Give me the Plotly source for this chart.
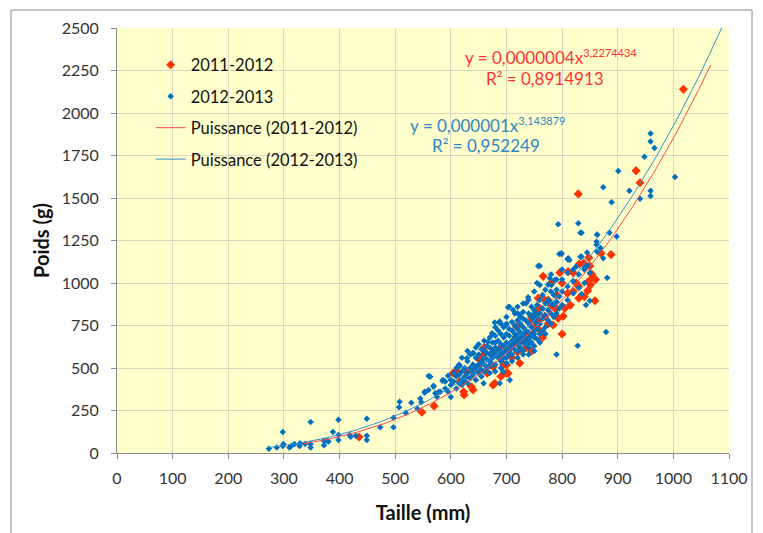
import numpy as np
import plotly.graph_objects as go

# ---------------- data ----------------
red_x = [1018, 933, 940, 829, 888, 848, 831, 839, 853, 855, 847, 851, 846, 859, 796, 811, 766, 757, 769, 754,
         760, 769, 787, 793, 802, 805, 751, 757, 784, 718, 718, 714, 691, 720, 679, 658, 652, 700, 676, 703,
         724, 695, 676, 679, 652, 616, 629, 604, 610, 624, 623, 640, 637, 548, 570, 435, 800, 820, 830, 840,
         860, 780, 745, 765, 740, 730, 710, 700, 690, 665, 645, 800, 815, 825, 790, 775, 870, 850, 830, 735,
         745, 705, 660, 780, 810, 820, 760, 775, 790, 745]
red_y = [2139, 1661, 1590, 1524, 1167, 1149, 1112, 1116, 1053, 1033, 1008, 989, 955, 896, 1061, 1067, 1039, 911, 900, 841,
         851, 804, 851, 792, 804, 851, 743, 782, 753, 743, 684, 644, 625, 594, 606, 576, 518, 518, 508, 469,
         528, 520, 400, 410, 547, 420, 475, 469, 484, 341, 360, 371, 390, 240, 276, 94, 700, 950, 910, 920,
         1020, 1000, 600, 680, 700, 660, 560, 470, 450, 470, 490, 1000, 870, 1000, 930, 900, 1175, 1100, 980, 620,
         780, 620, 620, 870, 940, 1060, 720, 760, 850, 800]

blue_cols = {
    273: [25], 287: [33], 298: [41, 124], 299: [53], 310: [33], 313: [41], 319: [53], 328: [41], 329: [57],
    338: [53], 348: [33, 53, 182], 372: [72, 45], 377: [72], 380: [68], 388: [124], 398: [196, 106, 76],
    418: [106], 420: [96], 429: [102], 449: [202, 102, 76], 473: [151], 497: [208, 151], 507: [269], 508: [302],
    519: [237], 529: [296], 540: [260], 545: [320], 547: [298], 553: [355, 361], 560: [453, 370], 563: [449],
    569: [396, 390], 572: [351], 575: [331], 578: [359], 581: [360], 585: [425], 586: [429],
    590: [380, 420], 595: [360, 455], 600: [400, 430, 330], 605: [420, 470], 610: [380, 450, 500],
    615: [410, 520, 460], 616: [512], 620: [430, 480, 560, 400, 410], 625: [450, 500, 420],
    629: [557, 449], 630: [470, 540, 600, 410], 635: [440, 500, 580], 640: [480, 520, 460, 590, 586],
    645: [500, 560, 430, 620], 650: [470, 520, 580, 640, 500], 655: [490, 540, 610, 450],
    659: [410], 660: [520, 560, 600, 480, 660], 665: [500, 550, 630, 590], 667: [655],
    670: [540, 580, 620, 470, 680, 510, 518], 674: [704], 675: [560, 600, 650, 520, 700],
    679: [767], 680: [520, 580, 620, 690, 650, 480, 740], 685: [560, 610, 660, 590, 720],
    687: [767], 688: [773, 410], 690: [540, 600, 640, 700, 760, 580, 500], 694: [478],
    695: [590, 630, 680, 560, 740], 700: [560, 610, 650, 700, 760, 800, 600, 530, 753],
    703: [857], 705: [600, 640, 690, 730, 580, 860], 706: [429], 710: [580, 620, 660, 720, 770, 640, 540],
    712: [841], 715: [610, 650, 700, 750, 680, 820], 720: [600, 640, 690, 730, 780, 560, 660, 860, 822],
    724: [812], 725: [620, 670, 710, 760, 650, 800], 730: [600, 650, 690, 740, 790, 830, 700, 580, 880],
    735: [640, 680, 720, 780, 880, 660], 739: [916], 740: [620, 670, 710, 760, 820, 900, 640, 580],
    745: [650, 700, 740, 800, 860, 690], 750: [630, 680, 720, 780, 840, 950, 700, 600],
    751: [822], 755: [670, 730, 800, 870, 1000, 760], 757: [1100], 760: [700, 760, 820, 900, 650, 988, 1100],
    765: [720, 790, 850, 930], 770: [740, 810, 880, 960, 700], 775: [780, 840, 900, 990],
    778: [1028], 780: [760, 820, 880, 950, 1050], 781: [988], 785: [800, 870, 930], 787: [1018],
    790: [820, 890, 960, 1020, 580], 793: [1345], 795: [850, 920, 1170], 799: [1175, 1171],
    800: [870, 950, 1020, 1080], 810: [900, 980, 1060, 1140], 811: [1145], 813: [1135],
    820: [940, 1010, 1080], 825: [1096], 828: [631], 829: [1351], 830: [970, 1050],
    833: [1296, 1155], 835: [1155, 1296, 935], 840: [1000, 1080, 1090], 843: [870], 845: [1100, 1180],
    847: [1100], 850: [1060, 896], 862: [1243, 1225], 863: [1284, 1286, 1184], 869: [1206],
    874: [1145, 1563], 879: [712], 881: [1031], 885: [1296], 889: [1475], 898: [1273],
    901: [1659], 921: [1543], 940: [1496], 948: [1743], 959: [1880, 1833, 1543, 1512], 966: [1794],
    1003: [1623],
}
blue_x = [x for x, ys in blue_cols.items() for _ in ys]
blue_y = [y for ys in blue_cols.values() for y in ys]

# power trendlines  y = a * x^b
red_a, red_b, red_xmin, red_xmax = 3.847e-7, 3.2274434, 335, 1067
blue_a, blue_b, blue_xmin, blue_xmax = 7.12e-7, 3.143879, 272, 1090

SUP = '<sup><span style="font-size:11px">{}</span></sup>'
red_eq = "y = 0,0000004x" + SUP.format("3,2274434")
red_r2 = "R² = 0,8914913"
blue_eq = "y = 0,000001x" + SUP.format("3,143879")
blue_r2 = "R² = 0,952249"

# ---------------- figure ----------------
FONT = "Lato, 'Open Sans', sans-serif"
RED_M = "#FF3300"
BLUE_M = "#0070C0"

fig = go.Figure()
fig.add_trace(go.Scatter(x=red_x, y=red_y, mode="markers", name="2011-2012", legendgroup="a",
                         marker=dict(symbol="diamond", size=7, color=RED_M, line=dict(width=0))))
fig.add_trace(go.Scatter(x=blue_x, y=blue_y, mode="markers", name="2012-2013", legendgroup="b",
                         marker=dict(symbol="diamond", size=5, color=BLUE_M, line=dict(width=0))))
rx = np.linspace(red_xmin, red_xmax, 200)
bx = np.linspace(blue_xmin, blue_xmax, 200)
fig.add_trace(go.Scatter(x=rx, y=red_a * rx ** red_b, mode="lines", name="Puissance (2011-2012)",
                         legendgroup="c", line=dict(color="#FF4A4A", width=1)))
fig.add_trace(go.Scatter(x=bx, y=blue_a * bx ** blue_b, mode="lines", name="Puissance (2012-2013)",
                         legendgroup="d", line=dict(color="#3C8FCB", width=1)))

fig.update_layout(
    width=763, height=533,
    margin=dict(l=117, r=34, t=28, b=80),
    paper_bgcolor="white", plot_bgcolor="#FFFFCC",
    font=dict(family=FONT, size=15, color="#222"),
    legend=dict(x=0.055, y=0.954, xanchor="left", yanchor="top", bgcolor="rgba(0,0,0,0)",
                font=dict(size=16.5, color="#111"), tracegroupgap=7, itemwidth=30),
    showlegend=True,
)
fig.update_xaxes(range=[0, 1100], tick0=0, dtick=100, showgrid=True, gridcolor="#DAD6C2", gridwidth=1,
                 zeroline=False, showline=True, linecolor="#8C8C8C", ticks="outside", ticklen=5,
                 tickcolor="#8C8C8C", tickfont=dict(size=16, color="#333"), ticklabelstandoff=6,
                 title=dict(text="<b>Taille (mm)</b>", font=dict(size=20, color="#111"), standoff=19))
fig.update_yaxes(range=[0, 2500], tick0=0, dtick=250, showgrid=True, gridcolor="#DAD6C2", gridwidth=1,
                 zeroline=False, showline=True, linecolor="#8C8C8C", ticks="outside", ticklen=5,
                 tickcolor="#8C8C8C", tickfont=dict(size=16, color="#333"), ticklabelstandoff=9,
                 title=dict(text="<b>Poids (g)</b>", font=dict(size=20, color="#111"), standoff=6))

ann = [
    (551, 57, red_eq, "#FF3333"),
    (545, 78, red_r2, "#FF3333"),
    (487, 125, blue_eq, "#2F86C2"),
    (486, 145, blue_r2, "#2F86C2"),
]
for px, py, txt, col in ann:
    fig.add_annotation(x=(px - 117) / 612, y=(453 - py) / 425, xref="paper", yref="paper", text=txt,
                       xanchor="center", yanchor="middle", showarrow=False,
                       font=dict(size=17, color=col))

fig.add_shape(type="rect", xref="paper", yref="paper",
              x0=(11 - 117) / 612, x1=(752 - 117) / 612, y0=(453 - 545) / 425, y1=(453 - 10) / 425,
              line=dict(color="#8C8C8C", width=1), fillcolor="rgba(0,0,0,0)", layer="below")

fig.write_html("out.html")
